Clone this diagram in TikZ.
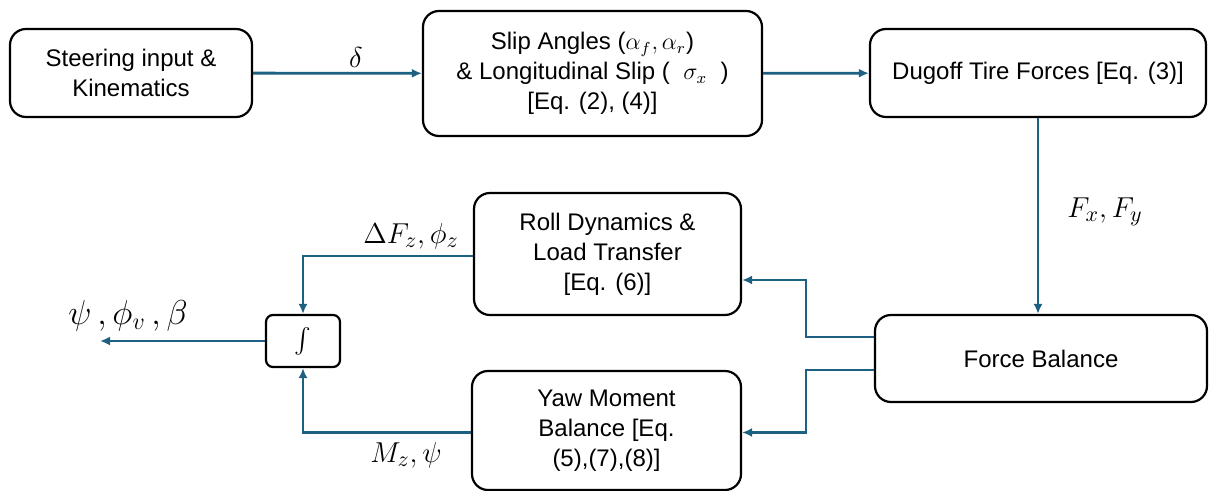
\documentclass[tikz,border=0pt]{standalone}
\usepackage{graphicx}
\usepackage{fontspec}
\setmainfont{Liberation Sans}
\usetikzlibrary{arrows.meta,calc}
\definecolor{flow}{RGB}{30,96,130}
\begin{document}
\begin{tikzpicture}[x=0.5pt,y=-0.5pt,
  block/.style={draw=black,line width=1.1pt,rounded corners=8pt,align=center,
    inner sep=2pt,font=\fontsize{12}{15}\selectfont},
  arr/.style={draw=flow,line width=1.4pt,-{Latex[length=5pt,width=4.5pt]}},
  lbl/.style={font=\fontsize{15}{17}\selectfont}]
\useasboundingbox (0,0) rectangle (1209,491);

% blocks
\node[block,minimum width=121pt,minimum height=44pt] (steer) at (131,73)
  {Steering input \&\\Kinematics};
\node[block,minimum width=169.5pt,minimum height=62.5pt] (slip) at (592.5,73.5)
  {Slip Angles ($\alpha_f,\alpha_r$)\\\& Longitudinal Slip (\ \ $\sigma_x$\ \ )\\{[Eq. (2), (4)]}};
\node[block,minimum width=168pt,minimum height=44pt] (tire) at (1038,73)
  {Dugoff Tire Forces [Eq. (3)]};
\node[block,minimum width=133.5pt,minimum height=61pt] (roll) at (607.5,254)
  {Roll Dynamics \&\\Load Transfer\\{[Eq. (6)]}};
\node[block,minimum width=166pt,minimum height=43.5pt] (force) at (1041,358.5)
  {Force Balance};
\node[block,minimum width=134.5pt,minimum height=59.5pt] (yaw) at (606.5,430.5)
  {Yaw Moment\\Balance [Eq.\\(5),(7),(8)]};
\node[block,rounded corners=3.5pt,minimum width=37pt,minimum height=26pt,
  inner sep=0pt] (integ) at (303,341)
  {\scalebox{1.25}{$\int$}};

% junction points and free end
\coordinate (jr) at (806,337);
\coordinate (jy) at (806,370);
\coordinate (out) at (100,341);

% connectors
\draw[arr] (steer) -- (slip);
\draw[arr] (slip) -- (tire);
\draw[arr] (tire.south) -- (tire.south |- force.north);
\draw[arr] ($(force.west)+(0,-21.5)$) -- (jr) |- ($(roll.east)+(0,26)$);
\draw[arr] ($(force.west)+(0,11.5)$) -- (jy) |- ($(yaw.east)+(0,2)$);
\draw[arr] ($(roll.west)+(0,2)$) -| (integ.north);
\draw[arr] ($(yaw.west)+(0,2)$) -| (integ.south);
\draw[arr] (integ.west) -- (out);

% signal labels
\node[lbl] (ld) at (356,58) {$\delta$};
\node[lbl] (lf) at (1105,212) {$F_x,F_y$};
\node[lbl] (lr) at (411,236) {$\Delta F_z,\phi_z$};
\node[lbl] (lm) at (406,455) {$M_z,\psi$};
\node[lbl,font=\fontsize{18}{20}\selectfont] (lo) at (128,316) {$\psi\,,\phi_v\,,\beta$};
\end{tikzpicture}
\end{document}
